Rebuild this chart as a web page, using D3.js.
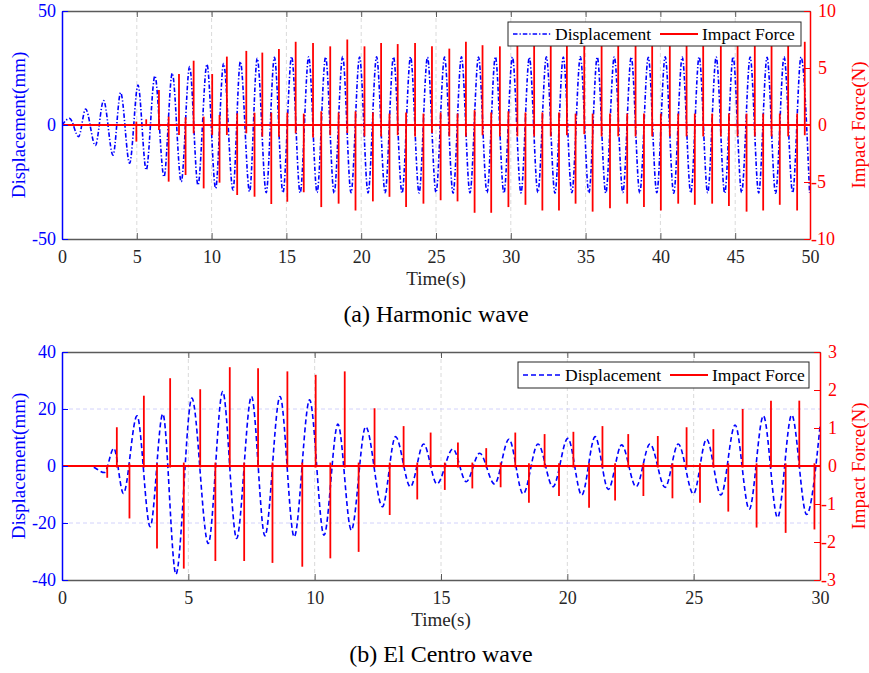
<!DOCTYPE html>
<html>
<head>
<meta charset="utf-8">
<script src="https://cdn.jsdelivr.net/npm/d3@7"></script>
<style>
  body { margin: 0; background: #fff; }
  svg { display: block; }
</style>
</head>
<body>
<svg id="fig" width="869" height="673"></svg>
<script>
// ---------------- (a) Harmonic wave ----------------
// displacement extrema (s, mm)
const harmonicDispTime = [0, 0.51, 1.11, 1.58, 2.23, 2.78, 3.41, 3.92, 4.52, 5.08, 5.63, 6.21, 6.82, 7.37, 7.97, 8.53, 9.09, 9.69, 10.27, 10.80,
  11.43, 11.92, 12.54, 13.05, 13.65, 14.20, 14.77, 15.35, 15.92, 16.49, 17.05, 17.62, 18.19, 18.76, 19.32, 19.89, 20.46, 21.03, 21.60, 22.16,
  22.73, 23.30, 23.87, 24.43, 25.00, 25.57, 26.14, 26.70, 27.27, 27.84, 28.41, 28.97, 29.54, 30.11, 30.68, 31.24, 31.81, 32.38, 32.95, 33.51,
  34.08, 34.65, 35.22, 35.78, 36.35, 36.92, 37.49, 38.05, 38.62, 39.19, 39.76, 40.32, 40.89, 41.46, 42.03, 42.59, 43.16, 43.73, 44.30, 44.86,
  45.43, 46.00, 46.57, 47.13, 47.70, 48.27, 48.84, 49.40, 49.97];
const harmonicDisp = [0, 2.9, -5.1, 7.0, -9.0, 10.7, -13.2, 14.2, -16.8, 17.5, -19.7, 21.5, -22.7, 22.7, -24.9, 25.6, -26.3, 26.6, -27.8, 27.0,
  -28.5, 27.8, -29.2, 29.2, -29.7, 29.7, -29.7, 30.0, -29.8, 29.9, -29.6, 29.8, -29.9, 30.0, -29.7, 29.8, -29.8, 29.9, -29.7, 29.8,
  -29.9, 29.9, -29.8, 29.7, -29.6, 29.8, -29.9, 29.9, -29.8, 29.8, -29.7, 29.9, -29.9, 29.8, -29.8, 29.7, -29.6, 29.9, -29.9, 29.8,
  -29.7, 29.9, -29.8, 29.8, -29.9, 29.9, -29.6, 29.8, -29.8, 29.7, -29.7, 29.9, -29.9, 29.8, -29.8, 29.9, -29.7, 29.8, -29.9, 29.9,
  -29.6, 29.8, -29.8, 29.7, -29.9, 29.9, -29.7, 29.8, -29.8];
// impact force spikes (s, N)
const harmonicForceTime = [4.97, 5.63, 6.48, 7.13, 7.82, 8.26, 8.80, 9.47, 10.04, 10.53, 11.02, 11.71, 12.32, 12.87, 13.39, 13.99, 14.50, 15.06, 15.62, 16.16,
  16.78, 17.33, 17.93, 18.49, 19.07, 19.62, 20.22, 20.78, 21.33, 21.89, 22.44, 23.00, 23.60, 24.16, 24.73, 25.31, 25.89, 26.44, 27.00, 27.58,
  28.11, 28.69, 29.27, 29.84, 30.44, 30.98, 31.56, 32.11, 32.67, 33.22, 33.75, 34.33, 34.91, 35.47, 36.07, 36.63, 37.18, 37.78, 38.34, 38.90,
  39.45, 40.03, 40.63, 41.19, 41.75, 42.30, 42.86, 43.46, 44.04, 44.58, 45.16, 45.76, 46.31, 46.87, 47.43, 47.98, 48.54, 49.14, 49.65];
const harmonicForceMax = [0.3, 0.5, 3.07, 0.73, 4.47, 0.67, 5.64, 0.73, 4.47, 0.88,
  6.0, 1.02, 6.5, 1.08, 6.35, 1.08, 6.67, 1.08, 7.3, 1.0,
  7.2, 1.2, 6.9, 1.1, 7.5, 1.2, 6.9, 1.1, 7.2, 1.0,
  7.1, 1.1, 7.2, 1.0, 6.9, 1.1, 6.7, 1.0, 7.3, 1.3,
  7.0, 1.1, 6.9, 1.2, 7.0, 1.1, 7.1, 1.1, 7.0, 1.1,
  7.2, 1.0, 7.1, 1.0, 7.0, 1.0, 7.2, 1.0, 7.1, 1.0,
  7.0, 1.0, 7.2, 1.0, 7.1, 1.0, 7.0, 1.0, 7.2, 1.0,
  7.1, 1.0, 7.0, 1.0, 7.2, 1.0, 7.1, 1.0, 7.3];
const harmonicForceMin = [-1.46, -0.1, -0.44, -4.97, -0.88, -4.39, -0.73, -5.56, -0.88, -5.06,
  -0.88, -6.14, -0.73, -6.29, -1.02, -6.93, -1.02, -6.73, -0.73, -5.9,
  -1.1, -7.2, -0.9, -6.9, -0.7, -7.5, -1.0, -6.7, -1.0, -6.3,
  -0.9, -7.2, -1.0, -6.9, -0.7, -6.6, -1.0, -6.7, -1.0, -7.7,
  -0.9, -7.7, -1.0, -7.2, -1.0, -7.0, -1.0, -7.5, -1.0, -7.5,
  -0.9, -6.9, -0.8, -7.6, -1.0, -7.3, -1.0, -6.9, -1.0, -7.2,
  -1.0, -7.5, -1.0, -6.9, -1.0, -7.0, -1.0, -6.9, -1.0, -7.1,
  -1.0, -7.6, -1.0, -7.5, -1.0, -7.0, -1.0, -7.5, -0.9];
const harmonicTimeTicks = [0, 5, 10, 15, 20, 25, 30, 35, 40, 45, 50];
const harmonicDispTicks = [-50, 0, 50];
const harmonicForceTicks = [-10, -5, 0, 5, 10];

// ---------------- (b) El Centro wave ----------------
const elCentroDispTime = [0, 1.10, 1.68, 2.05, 2.43, 2.97, 3.49, 3.99, 4.51, 5.14, 5.79, 6.36, 6.91, 7.50, 8.03, 8.63, 9.19, 9.80, 10.37, 10.92,
  11.45, 12.02, 12.68, 13.20, 13.79, 14.31, 14.84, 15.47, 16.00, 16.53, 17.12, 17.69, 18.25, 18.84, 19.43, 20.02, 20.57, 21.10, 21.62, 22.15,
  22.72, 23.27, 23.87, 24.39, 24.99, 25.51, 26.08, 26.64, 27.20, 27.76, 28.32, 28.88, 29.47, 30.00];
const elCentroDisp = [0, 0, -2.3, 6.2, -9.6, 17.6, -21.3, 18.3, -38.0, 23.8, -27.2, 26.1, -25.4, 24.4, -24.5, 24.4, -24.9, 23.2, -24.3, 14.7,
  -22.5, 13.8, -14.3, 10.3, -7.3, 7.7, -6.3, 6.0, -5.5, 4.5, -6.3, 9.4, -9.8, 7.7, -7.3, 9.7, -10.2, 10.3, -8.2, 7.4,
  -7.3, 7.7, -7.5, 7.7, -9.8, 9.4, -10.2, 14.4, -15.2, 17.6, -18.1, 17.9, -17.0, 13.8];
const elCentroForceTime = [1.79, 2.17, 2.67, 3.24, 3.76, 4.28, 4.82, 5.47, 6.07, 6.64, 7.21, 7.76, 8.33, 8.92, 9.51, 10.04, 10.62, 11.19, 11.74, 12.37,
  12.97, 13.52, 14.06, 14.59, 15.15, 15.67, 16.24, 16.79, 17.36, 17.94, 18.48, 19.10, 19.67, 20.24, 20.86, 21.39, 21.89, 22.41, 23.01, 23.58,
  24.16, 24.72, 25.25, 25.78, 26.37, 26.94, 27.49, 28.06, 28.64, 29.18, 29.78];
const elCentroForceMax = [0.0, 1.02, 0.07, 1.85, 0.07, 2.31, 0.09, 2.02, 0.09, 2.60,
  0.09, 2.57, 0.09, 2.49, 0.09, 2.40, 0.09, 2.49, 0.09, 1.52,
  0.09, 1.05, 0.09, 0.88, 0.09, 0.62, 0.09, 0.47, 0.09, 0.88,
  0.07, 0.84, 0.07, 0.90, 0.07, 1.05, 0.07, 0.84, 0.07, 0.79,
  0.07, 1.02, 0.07, 0.97, 0.07, 1.50, 0.07, 1.72, 0.07, 1.72, 0.07];
const elCentroForceMin = [-0.31, -0.04, -1.38, -0.04, -2.17, -0.04, -2.70, -0.04, -2.50, -0.04,
  -2.50, -0.04, -2.55, -0.04, -2.65, -0.04, -2.43, -0.04, -2.26, -0.04,
  -1.29, -0.04, -0.88, -0.04, -0.63, -0.04, -0.59, -0.04, -0.56, -0.04,
  -0.97, -0.04, -0.79, -0.04, -1.10, -0.04, -0.91, -0.04, -0.79, -0.04,
  -0.85, -0.04, -0.97, -0.04, -1.20, -0.04, -1.62, -0.04, -1.76, -0.04, -1.67];
const elCentroTimeTicks = [0, 5, 10, 15, 20, 25, 30];
const elCentroDispTicks = [-40, -20, 0, 20, 40];
const elCentroForceTicks = [-3, -2, -1, 0, 1, 2, 3];

const legendLabels = ["Displacement", "Impact Force"];
const timeLabel = "Time(s)";
const dispLabel = "Displacement(mm)";
const forceLabel = "Impact Force(N)";

// ---------------- drawing ----------------
const FONT = "'Liberation Serif','Times New Roman',Times,serif";
const BLUE = "#0000ff", RED = "#ff0000", DARK = "#262626";
const svg = d3.select("#fig");
svg.append("rect").attr("width", 869).attr("height", 673).attr("fill", "#fff");

const panels = [
  {
    id: "a", left: 62, top: 11, width: 748, height: 228,
    dispTime: harmonicDispTime, disp: harmonicDisp, dash: "4.5,2,1.3,2",
    fTime: harmonicForceTime, fMax: harmonicForceMax, fMin: harmonicForceMin,
    xDomain: [0, 50], dDomain: [-50, 50], fDomain: [-10, 10],
    xTicks: harmonicTimeTicks, dTicks: harmonicDispTicks, fTicks: harmonicForceTicks,
    legend: { x: 508, y: 22, w: 293, h: 24 },
    caption: "(a) Harmonic wave", captionY: 322
  },
  {
    id: "b", left: 62, top: 352, width: 758, height: 228,
    dispTime: elCentroDispTime, disp: elCentroDisp, dash: "5,3",
    fTime: elCentroForceTime, fMax: elCentroForceMax, fMin: elCentroForceMin,
    xDomain: [0, 30], dDomain: [-40, 40], fDomain: [-3, 3],
    xTicks: elCentroTimeTicks, dTicks: elCentroDispTicks, fTicks: elCentroForceTicks,
    legend: { x: 518, y: 362, w: 291, h: 26 },
    caption: "(b) El Centro wave", captionY: 662
  }
];

panels.forEach(p => {
  const w = p.width, h = p.height;
  const g = svg.append("g").attr("transform", `translate(${p.left},${p.top})`);
  const x = d3.scaleLinear().domain(p.xDomain).range([0, w]);
  const yL = d3.scaleLinear().domain(p.dDomain).range([h, 0]);
  const yR = d3.scaleLinear().domain(p.fDomain).range([h, 0]);

  g.append("clipPath").attr("id", "clip-" + p.id)
    .append("rect").attr("width", w).attr("height", h);

  // grid
  const grid = g.append("g");
  grid.selectAll("line.vx")
    .data(p.xTicks.filter(t => t > p.xDomain[0] && t < p.xDomain[1]))
    .join("line").attr("class", "vx")
    .attr("x1", d => x(d)).attr("x2", d => x(d)).attr("y1", 0).attr("y2", h)
    .attr("stroke", "#dadada").attr("stroke-width", 1).attr("stroke-dasharray", "4,3");
  grid.selectAll("line.hy")
    .data(p.dTicks.filter(t => t > p.dDomain[0] && t < p.dDomain[1] && t !== 0))
    .join("line").attr("class", "hy")
    .attr("x1", 0).attr("x2", w).attr("y1", d => yL(d)).attr("y2", d => yL(d))
    .attr("stroke", "#d2d2fb").attr("stroke-width", 1).attr("stroke-dasharray", "4,3");

  const plot = g.append("g").attr("clip-path", `url(#clip-${p.id})`);

  // displacement curve through the extrema
  const dispPts = p.dispTime.map((t, i) => [t, p.disp[i]]);
  plot.append("path")
    .datum(dispPts)
    .attr("fill", "none").attr("stroke", BLUE).attr("stroke-width", 1.6)
    .attr("stroke-dasharray", p.dash)
    .attr("d", d3.line().x(d => x(d[0])).y(d => yL(d[1])).curve(d3.curveMonotoneX));

  // impact force: zero baseline plus spikes
  plot.append("line")
    .attr("x1", x(p.xDomain[0])).attr("x2", x(p.xDomain[1]))
    .attr("y1", yR(0)).attr("y2", yR(0))
    .attr("stroke", RED).attr("stroke-width", 1.8);
  const spikes = p.fTime.map((t, i) => ({ t, hi: p.fMax[i], lo: p.fMin[i] }));
  plot.selectAll("line.spike").data(spikes).join("line").attr("class", "spike")
    .attr("x1", d => x(d.t)).attr("x2", d => x(d.t))
    .attr("y1", d => yR(d.hi)).attr("y2", d => yR(d.lo))
    .attr("stroke", RED).attr("stroke-width", 1.8);

  const fmt = d => String(d);
  const styleAxis = (sel, color, lineColor, lw) => {
    sel.attr("font-family", FONT).attr("font-size", 18);
    sel.select(".domain").attr("stroke", lineColor).attr("stroke-width", lw);
    sel.selectAll(".tick line").attr("stroke", lineColor).attr("stroke-width", 1);
    sel.selectAll(".tick text").attr("fill", color);
  };

  // bottom & top
  const xb = g.append("g").attr("transform", `translate(0,${h})`)
    .call(d3.axisBottom(x).tickValues(p.xTicks).tickFormat(fmt).tickSizeInner(-6).tickSizeOuter(0).tickPadding(11));
  styleAxis(xb, DARK, "#5a5a5a", 1.3);
  const xt = g.append("g")
    .call(d3.axisTop(x).tickValues(p.xTicks).tickFormat("").tickSizeInner(-6).tickSizeOuter(0));
  styleAxis(xt, DARK, "#5a5a5a", 1.3);

  // left (displacement)
  const yl = g.append("g")
    .call(d3.axisLeft(yL).tickValues(p.dTicks).tickFormat(fmt).tickSizeInner(-6).tickSizeOuter(0).tickPadding(6));
  styleAxis(yl, BLUE, BLUE, 1.5);

  // right (impact force); minus sign hangs to the left of the digits
  const yr = g.append("g").attr("transform", `translate(${w},0)`)
    .call(d3.axisRight(yR).tickValues(p.fTicks).tickFormat(fmt).tickSizeInner(-6).tickSizeOuter(0).tickPadding(8));
  styleAxis(yr, RED, RED, 1.5);
  yr.selectAll(".tick text").attr("x", d => d < 0 ? 1 : 8);

  // axis titles
  g.append("text").attr("x", w / 2).attr("y", h + 46)
    .attr("text-anchor", "middle").attr("font-family", FONT).attr("font-size", 19)
    .attr("fill", DARK).text(timeLabel);
  g.append("text").attr("transform", `translate(${18.5 - p.left},${h / 2}) rotate(-90)`)
    .attr("dy", "0.35em").attr("text-anchor", "middle").attr("font-family", FONT).attr("font-size", 19)
    .attr("fill", BLUE).text(dispLabel);
  g.append("text").attr("transform", `translate(${858 - p.left},${h / 2}) rotate(-90)`)
    .attr("dy", "0.35em").attr("text-anchor", "middle").attr("font-family", FONT).attr("font-size", 19)
    .attr("fill", RED).text(forceLabel);

  // legend
  const L = p.legend;
  const lg = svg.append("g").attr("transform", `translate(${L.x},${L.y})`);
  lg.append("rect").attr("width", L.w).attr("height", L.h)
    .attr("fill", "#fff").attr("stroke", DARK).attr("stroke-width", 1);
  const my = L.h / 2;
  lg.append("line").attr("x1", 5).attr("x2", 43).attr("y1", my).attr("y2", my)
    .attr("stroke", BLUE).attr("stroke-width", 1.6).attr("stroke-dasharray", p.dash);
  lg.append("text").attr("x", 47).attr("y", my + 6)
    .attr("font-family", FONT).attr("font-size", 17.5).attr("fill", "#000").text(legendLabels[0]);
  lg.append("line").attr("x1", 152).attr("x2", 190).attr("y1", my).attr("y2", my)
    .attr("stroke", RED).attr("stroke-width", 1.8);
  lg.append("text").attr("x", 194).attr("y", my + 6)
    .attr("font-family", FONT).attr("font-size", 17.5).attr("fill", "#000").text(legendLabels[1]);

  // caption
  svg.append("text").attr("x", p.left + w / 2).attr("y", p.captionY)
    .attr("text-anchor", "middle").attr("font-family", FONT).attr("font-size", 24)
    .attr("fill", "#000").text(p.caption);
});
</script>
</body>
</html>
